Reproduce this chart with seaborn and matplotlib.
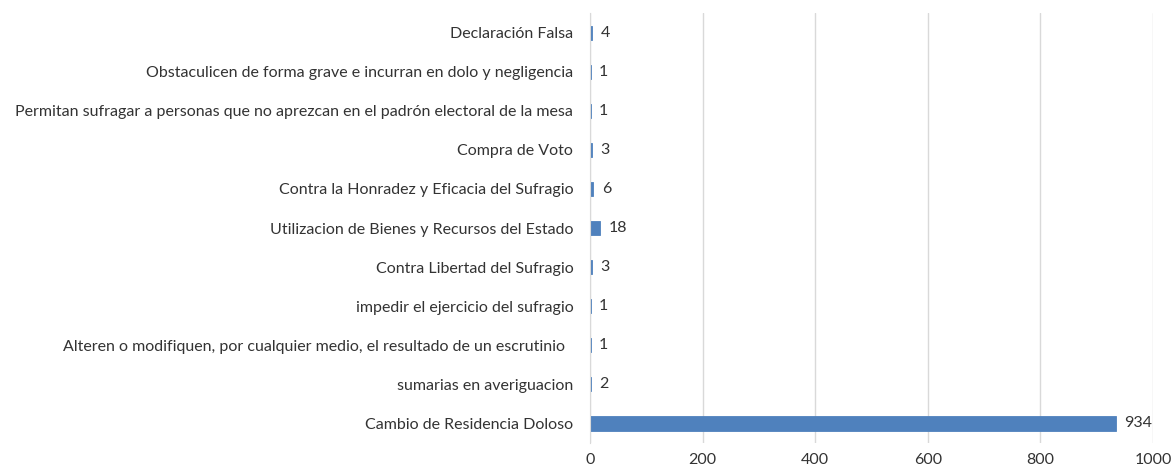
import matplotlib
matplotlib.use("Agg")
import matplotlib.pyplot as plt
import seaborn as sns
import pandas as pd

# datos (de arriba hacia abajo)
categorias = [
    "Declaración Falsa",
    "Obstaculicen de forma grave e incurran en dolo y negligencia",
    "Permitan sufragar a personas que no aprezcan en el padrón electoral de la mesa",
    "Compra de Voto",
    "Contra la Honradez y Eficacia del Sufragio",
    "Utilizacion de Bienes y Recursos del Estado",
    "Contra Libertad del Sufragio",
    "impedir el ejercicio del sufragio",
    "Alteren o modifiquen, por cualquier medio, el resultado de un escrutinio  ",
    "sumarias en averiguacion",
    "Cambio de Residencia Doloso",
]
valores = [4, 1, 1, 3, 6, 18, 3, 1, 1, 2, 934]
xticks = [0, 200, 400, 600, 800, 1000]

df = pd.DataFrame({"categoria": categorias, "valor": valores})

sns.set_style("white")
plt.rcParams["font.family"] = ["Lato", "DejaVu Sans"]

fig = plt.figure(figsize=(11.73, 4.71), dpi=100)
ax = fig.add_axes([0.503, 0.0594, 0.48, 0.913])

sns.barplot(data=df, x="valor", y="categoria", color="#4F81BD", saturation=1,
            width=0.36, edgecolor="#4F81BD", linewidth=0.6, ax=ax)

ax.set_xlim(0, 1000)
ax.set_ylim(10.5, -0.5)
ax.set_xticks(xticks)
ax.set_xlabel("")
ax.set_ylabel("")
ax.grid(axis="x", color="#d9d9d9", linewidth=1)
ax.set_axisbelow(True)
for s in ["top", "right", "bottom"]:
    ax.spines[s].set_visible(False)
ax.spines["left"].set_color("#d9d9d9")
ax.tick_params(axis="y", length=0, pad=12, labelsize=11.5, labelcolor="#333333")
ax.tick_params(axis="x", length=0, pad=7, labelsize=11.5, labelcolor="#333333")

for i, v in enumerate(valores):
    ax.annotate(str(v), (v, i), xytext=(6, 0), textcoords="offset points",
                va="center", ha="left", fontsize=11.5, color="#333333")

plt.savefig("out.png", dpi=100)
